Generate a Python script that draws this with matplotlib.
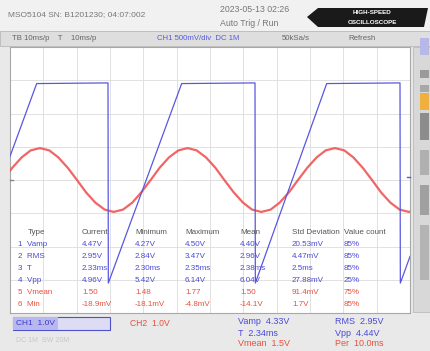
import matplotlib.pyplot as plt
import matplotlib.patches as patches

plt.rcParams['font.family'] = ['Liberation Sans', 'DejaVu Sans']

W, H = 430, 351          # canvas size in pixels


def fx(x):               # pixel x -> figure fraction
    return x / W


def fy(y):               # pixel y (from top) -> figure fraction
    return 1 - y / H


# CH2 (red) trace, time and level in divisions
red_t = [0.00, 0.07, 0.35, 0.62, 0.90, 1.18, 1.45, 1.73, 2.01, 2.28, 2.56, 2.84,
         3.11, 3.39, 3.67, 3.94, 4.22, 4.49, 4.77, 5.05, 5.33, 5.60, 5.88, 6.16,
         6.43, 6.71, 6.99, 7.26, 7.54, 7.82, 8.09, 8.37, 8.64, 8.92, 9.20, 9.47,
         9.75, 10.03, 10.30, 10.58, 10.86, 11.13, 11.41, 11.69, 11.96, 12.00]
red_v = [4.28, 4.37, 4.68, 4.89, 4.96, 4.89, 4.68, 4.37, 4.00, 3.63, 3.32, 3.11,
         3.04, 3.11, 3.32, 3.63, 4.00, 4.37, 4.68, 4.89, 4.96, 4.89, 4.68, 4.37,
         4.00, 3.63, 3.32, 3.11, 3.04, 3.11, 3.32, 3.63, 4.00, 4.37, 4.68, 4.89,
         4.96, 4.89, 4.68, 4.37, 4.00, 3.63, 3.32, 3.11, 3.04, 3.05]

# CH1 (blue) trace
blue_t = [0.00, 0.80, 2.94, 2.95, 5.15, 7.35, 7.36, 9.50, 11.70, 11.71, 12.00]
blue_v = [4.71, 6.90, 6.92, 0.90, 6.90, 6.92, 0.90, 6.90, 6.92, 0.90, 1.70]

# measurement table
table_header = ['Type', 'Current', 'Minimum', 'Maximum', 'Mean', 'Std Deviation', 'Value count']
table_rows = [
    ['1  Vamp', '4.47V', '4.27V', '4.50V', '4.40V', '20.53mV', '85%'],
    ['2  RMS', '2.95V', '2.84V', '3.47V', '2.96V', '4.47mV', '85%'],
    ['3  T', '2.33ms', '2.30ms', '2.35ms', '2.38ms', '2.5ms', '85%'],
    ['4  Vpp', '4.96V', '5.42V', '6.14V', '6.04V', '27.88mV', '25%'],
    ['5  Vmean', '1.50', '1.48', '1.77', '1.50', '91.4mV', '75%'],
    ['6  Min', '-18.9mV', '-18.1mV', '-4.8mV', '-14.1V', '1.7V', '85%'],
]
row_colors = ['#4a4ad6', '#4a4ad6', '#4a4ad6', '#4a4ad6', '#e8503c', '#e8503c']
col_x = [18, 82, 135, 185, 240, 292, 344]
row_y = [244, 256, 268, 280, 292, 304]

# readouts under the screen
bottom_mid = ['Vamp  4.33V', 'T  2.34ms', 'Vmean  1.5V']
bottom_right = ['RMS  2.95V', 'Vpp  4.44V', 'Per  10.0ms']
bottom_colors = ['#4a4ad6', '#4a4ad6', '#e8503c']

BLUE = '#5858e0'
RED = '#ee4b4b'
FS = 5.8

fig = plt.figure(figsize=(4.3, 3.51), dpi=100, facecolor='#e9e9e9')

# header strip and toolbar
fig.patches.append(patches.Rectangle((0, fy(31)), 1, 31 / H, transform=fig.transFigure,
                                     facecolor='#f1f1f1', edgecolor='none', zorder=0))
fig.patches.append(patches.Rectangle((0, fy(46)), 1, 15 / H, transform=fig.transFigure,
                                     facecolor='#dedede', edgecolor='#b8b8b8', lw=0.6, zorder=0))
fig.text(fx(8), fy(15), 'MSO5104 SN: B1201230; 04:07:002', fontsize=6, color='#777777', va='center')
fig.text(fx(220), fy(10), '2023-05-13 02:26', fontsize=6.3, color='#777777', va='center')
fig.text(fx(220), fy(24), 'Auto Trig / Run', fontsize=6.3, color='#777777', va='center')

# logo
logo = patches.Polygon([(fx(307), fy(17)), (fx(318), fy(8)), (fx(428), fy(8)),
                        (fx(424), fy(27)), (fx(318), fy(27))],
                       closed=True, transform=fig.transFigure, facecolor='#1a1a1a', edgecolor='none')
fig.patches.append(logo)
fig.text(fx(372), fy(13), 'HIGH-SPEED', fontsize=4.5, color='white', ha='center', va='center', weight='bold')
fig.text(fx(372), fy(22), 'OSCILLOSCOPE', fontsize=4.5, color='white', ha='center', va='center', weight='bold')

fig.text(fx(12), fy(39), 'TB 10ms/p    T    10ms/p', fontsize=5.6, color='#666666', va='center')
fig.text(fx(157), fy(39), 'CH1 500mV/div  DC 1M', fontsize=5.6, color='#5a5ae0', va='center')
fig.text(fx(282), fy(39), '50kSa/s', fontsize=5.6, color='#666666', va='center')
fig.text(fx(348), fy(39), 'Refresh', fontsize=5.6, color='#666666', va='center')

# right side panel
fig.patches.append(patches.Rectangle((fx(413), fy(312)), fx(17), 265 / H, transform=fig.transFigure,
                                     facecolor='#d8d8d8', edgecolor='#bcbcbc', lw=0.6, zorder=0))
for y0, y1, c in [(38, 55, '#b8b8e8'), (70, 78, '#9a9a9a'), (85, 92, '#a8a8a8'),
                  (93, 110, '#f0b040'), (113, 140, '#8c8c8c'), (150, 175, '#b0b0b0'),
                  (185, 215, '#a0a0a0'), (225, 280, '#b4b4b4')]:
    fig.patches.append(patches.Rectangle((fx(420), fy(y1)), fx(9), (y1 - y0) / H,
                                         transform=fig.transFigure, facecolor=c, edgecolor='none'))

# scope screen
ax = fig.add_axes([fx(10), fy(313), fx(400), (313 - 47) / H])
ax.set_facecolor('white')
ax.set_xlim(0, 12)
ax.set_ylim(0, 8)
for i in range(1, 12):
    ax.axvline(i, color='#dcdcdc', lw=0.6, zorder=1)
for j in range(1, 8):
    ax.axhline(j, color='#dcdcdc', lw=0.6, zorder=1)
ax.set_xticks([])
ax.set_yticks([])
for s in ax.spines.values():
    s.set_color('#a8a8a8')
    s.set_linewidth(0.8)

ax.plot(red_t, red_v, color=RED, lw=1.6, alpha=0.85, zorder=3, solid_joinstyle='round')
ax.plot(blue_t, blue_v, color=BLUE, lw=0.9, zorder=4)

# channel level markers
ax.plot([11.9, 12.0], [4.1, 4.1], color=BLUE, lw=1.0, clip_on=False, zorder=5)
ax.plot([0.0, 0.1], [4.0, 4.0], color='#888888', lw=1.0, clip_on=False, zorder=5)

# measurement table
for x, h in zip(col_x, table_header):
    fig.text(fx(x + (10 if h == 'Type' else 0)), fy(233), h, fontsize=FS, color='#555555', va='center')
for row, c, y in zip(table_rows, row_colors, row_y):
    for x, v in zip(col_x, row):
        fig.text(fx(x), fy(y), v, fontsize=FS, color=c, va='center')

# bottom readouts
fig.patches.append(patches.Rectangle((fx(13), fy(330)), fx(97), 13 / H, transform=fig.transFigure,
                                     facecolor='#dcdcf4', edgecolor='#5050c8', lw=0.8))
fig.patches.append(patches.Rectangle((fx(13), fy(330)), fx(45), 13 / H, transform=fig.transFigure,
                                     facecolor='#b8b8ee', edgecolor='none'))
fig.text(fx(16), fy(323.5), 'CH1  1.0V', fontsize=6, color='#3a3ad0', va='center')
fig.text(fx(130), fy(323), 'CH2  1.0V', fontsize=6.2, color='#e8503c', va='center')
fig.text(fx(16), fy(340), 'DC 1M  BW 20M', fontsize=5, color='#c8c8c8', va='center')
for i, (tm, tr, c) in enumerate(zip(bottom_mid, bottom_right, bottom_colors)):
    fig.text(fx(238), fy(322 + 11 * i), tm, fontsize=6.5, color=c, va='center')
    fig.text(fx(335), fy(322 + 11 * i), tr, fontsize=6.5, color=c, va='center')

fig.savefig('out.png', dpi=100, facecolor=fig.get_facecolor())
